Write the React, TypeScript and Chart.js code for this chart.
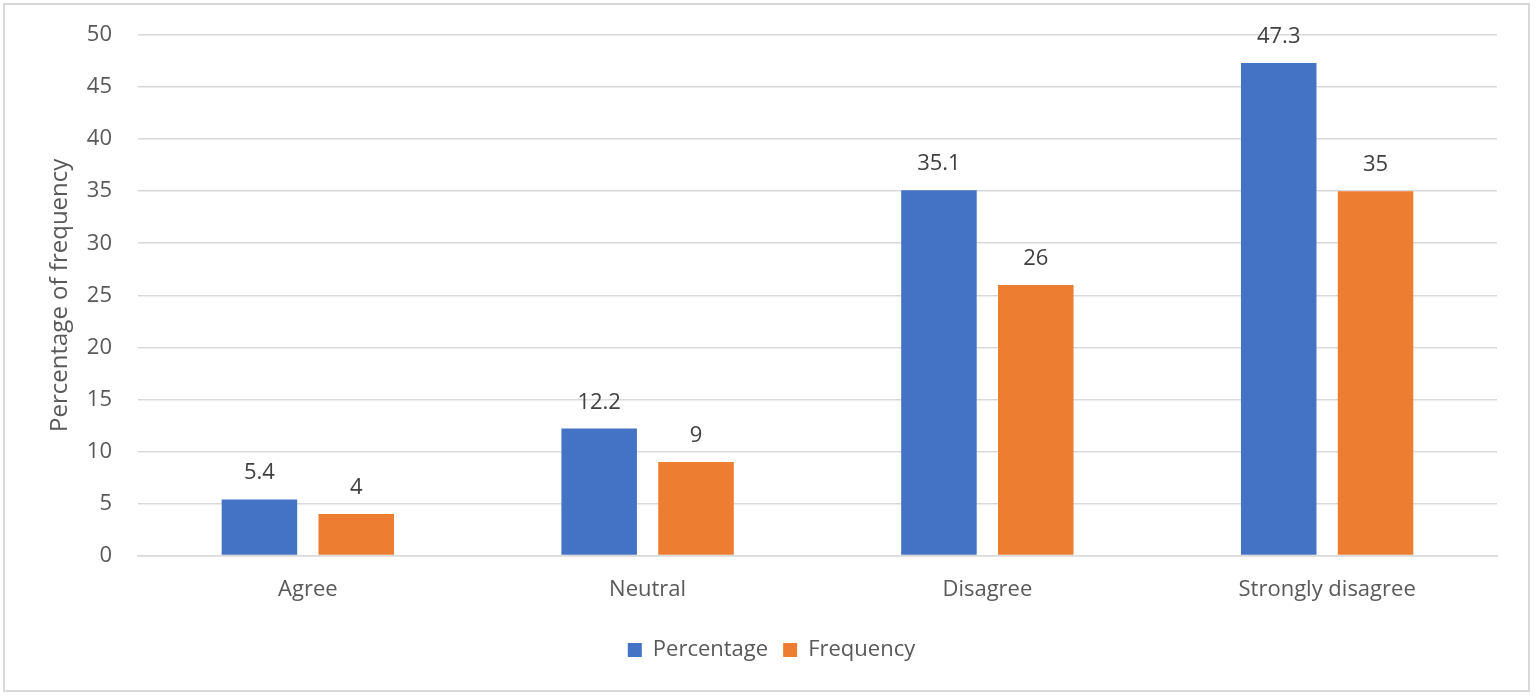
import React, { useEffect, useRef } from "react";
import { Chart, registerables } from "chart.js";

Chart.register(...registerables);

const categories = ["Agree", "Neutral", "Disagree", "Strongly disagree"];
const percentageValues = [5.4, 12.2, 35.1, 47.3];
const frequencyValues = [4, 9, 26, 35];
const seriesNames = ["Percentage", "Frequency"];
const yAxisTitle = "Percentage of frequency";

const FONT = "'Open Sans', 'DejaVu Sans', sans-serif";

const dataLabelPlugin = {
  id: "dataLabels",
  afterDatasetsDraw(chart: any) {
    const ctx = chart.ctx;
    ctx.save();
    ctx.font = `22px ${FONT}`;
    ctx.fillStyle = "#404040";
    ctx.textAlign = "center";
    ctx.textBaseline = "alphabetic";
    chart.data.datasets.forEach((ds: any, di: number) => {
      const meta = chart.getDatasetMeta(di);
      meta.data.forEach((bar: any, i: number) => {
        ctx.fillText(String(ds.data[i]), bar.x, bar.y - 20);
      });
    });
    ctx.restore();
  },
};

export default function App() {
  const ref = useRef<HTMLCanvasElement | null>(null);
  useEffect(() => {
    document.body.style.margin = "0";
    const chart = new Chart(ref.current!, {
      type: "bar",
      data: {
        labels: categories,
        datasets: [
          {
            label: seriesNames[0],
            data: percentageValues,
            backgroundColor: "#4472C4",
            categoryPercentage: 0.57,
            barPercentage: 0.78,
          },
          {
            label: seriesNames[1],
            data: frequencyValues,
            backgroundColor: "#ED7D31",
            categoryPercentage: 0.57,
            barPercentage: 0.78,
          },
        ],
      },
      options: {
        animation: false,
        responsive: false,
        maintainAspectRatio: false,
        layout: { padding: { left: 46, right: 39, top: 35, bottom: 25 } },
        plugins: {
          legend: {
            position: "bottom",
            labels: {
              boxWidth: 14,
              boxHeight: 14,
              padding: 15,
              color: "#595959",
              font: { family: FONT, size: 22 },
            },
          },
          tooltip: { enabled: false },
        },
        scales: {
          x: {
            grid: { display: false, drawTicks: false },
            border: { display: true, color: "#d9d9d9", width: 1.5 },
            ticks: {
              color: "#595959",
              font: { family: FONT, size: 22 },
              padding: 21,
            },
          },
          y: {
            min: 0,
            max: 50,
            afterFit: (scale: any) => {
              scale.paddingTop = 0;
            },
            ticks: {
              stepSize: 5,
              color: "#595959",
              font: { family: FONT, size: 22 },
              padding: 26,
            },
            grid: { color: "#d9d9d9", lineWidth: 1.5, drawTicks: false },
            border: { display: false },
            title: {
              display: true,
              text: yAxisTitle,
              color: "#595959",
              font: { family: FONT, size: 24 },
              padding: { top: 0, bottom: -14 },
            },
          },
        },
      },
      plugins: [dataLabelPlugin],
    });
    return () => chart.destroy();
  }, []);
  return (
    <div style={{ position: "relative", width: 1536, height: 696, background: "#fff" }}>
      <div
        style={{
          position: "absolute",
          left: 3,
          top: 3,
          width: 1527,
          height: 689,
          border: "2px solid #d9d9d9",
          boxSizing: "border-box",
          pointerEvents: "none",
        }}
      />
      <canvas ref={ref} width={1536} height={696} style={{ display: "block" }} />
    </div>
  );
}
